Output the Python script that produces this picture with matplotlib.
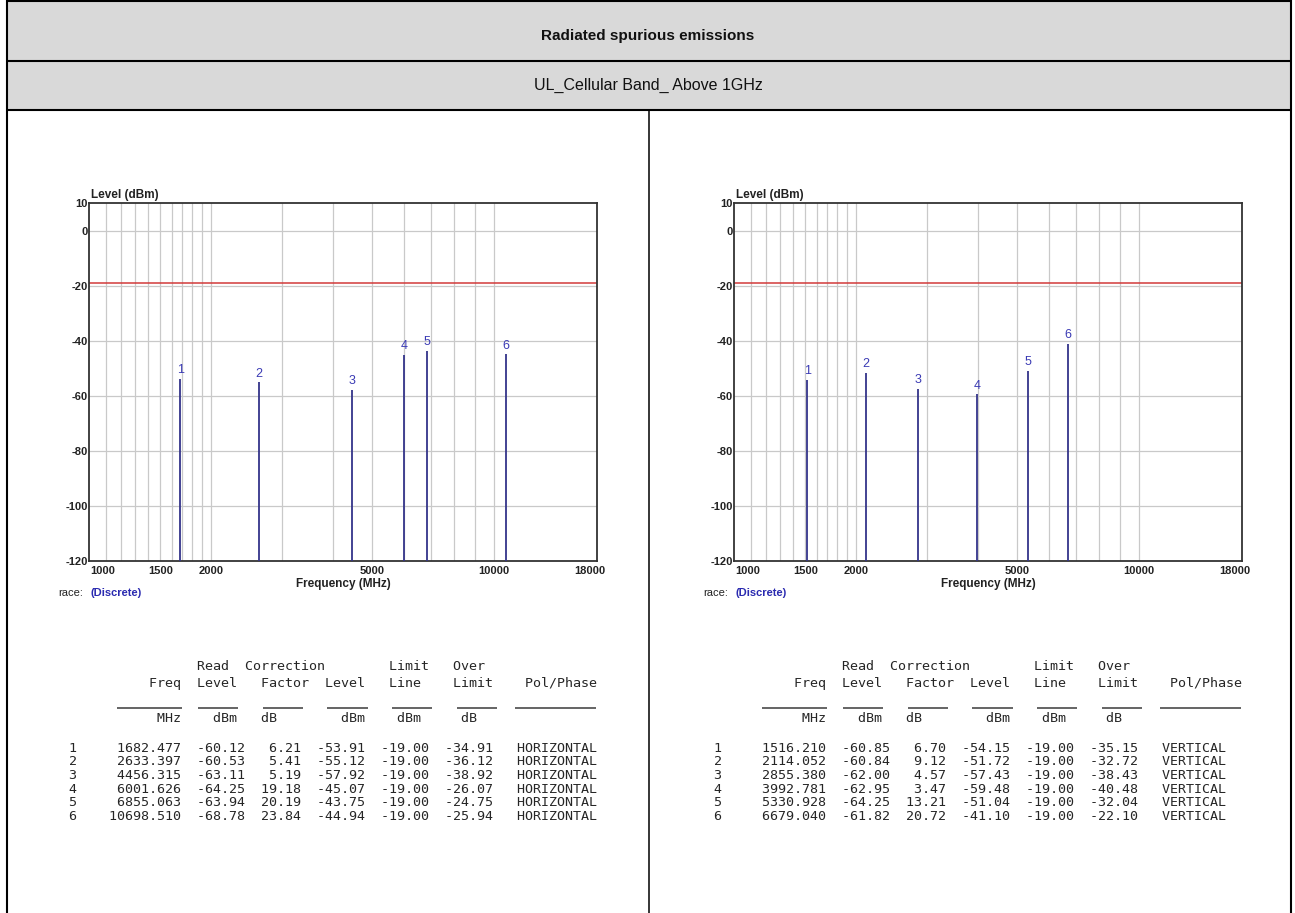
import matplotlib
matplotlib.use("Agg")
import matplotlib.pyplot as plt
from matplotlib.patches import Rectangle
from matplotlib.transforms import ScaledTranslation

plt.rcParams['font.family'] = ['Liberation Sans', 'DejaVu Sans']

# ---------------- data ----------------
title = "Radiated spurious emissions"
subtitle = "UL_Cellular Band_ Above 1GHz"

marker_ids = [1, 2, 3, 4, 5, 6]

h_freq = [1682.477, 2633.397, 4456.315, 6001.626, 6855.063, 10698.510]
h_read = [-60.12, -60.53, -63.11, -64.25, -63.94, -68.78]
h_corr = [6.21, 5.41, 5.19, 19.18, 20.19, 23.84]
h_level = [-53.91, -55.12, -57.92, -45.07, -43.75, -44.94]
h_limit = [-19.00, -19.00, -19.00, -19.00, -19.00, -19.00]
h_over = [-34.91, -36.12, -38.92, -26.07, -24.75, -25.94]
h_pol = "HORIZONTAL"

v_freq = [1516.210, 2114.052, 2855.380, 3992.781, 5330.928, 6679.040]
v_read = [-60.85, -60.84, -62.00, -62.95, -64.25, -61.82]
v_corr = [6.70, 9.12, 4.57, 3.47, 13.21, 20.72]
v_level = [-54.15, -51.72, -57.43, -59.48, -51.04, -41.10]
v_limit = [-19.00, -19.00, -19.00, -19.00, -19.00, -19.00]
v_over = [-35.15, -32.72, -38.43, -40.48, -32.04, -22.10]
v_pol = "VERTICAL"

limit_level = -19.0
x_tick_values = [1000, 1500, 2000, 5000, 10000, 18000]
x_tick_labels = ["1000", "1500", "2000", "5000", "10000", "18000"]
x_grid_values = [1100, 1200, 1300, 1400, 1500, 1600, 1700, 1800, 1900,
                 2000, 3000, 4000, 5000, 6000, 7000, 8000, 9000, 10000]
y_tick_values = [10, 0, -20, -40, -60, -80, -100, -120]
y_grid_values = [0, -20, -40, -60, -80, -100]

# ---------------- figure ----------------
W, H = 1295, 913
fig = plt.figure(figsize=(W / 100, H / 100), dpi=100)
fig.patch.set_facecolor("white")

bg = fig.add_axes([0, 0, 1, 1])
bg.set_xlim(0, W)
bg.set_ylim(H, 0)
bg.axis("off")

frame_lw = 1.5
left_b, right_b, top_b = 6.5, 1291, 1.5
row1_b, row2_b = 61, 110
divider_x = 649

bg.add_patch(Rectangle((left_b, top_b), right_b - left_b, row2_b - top_b,
                       facecolor="#d9d9d9", edgecolor="none"))
for y in (top_b, row1_b, row2_b):
    bg.plot([left_b, right_b], [y, y], color="black", lw=frame_lw, solid_capstyle="butt")
for x in (left_b, right_b):
    bg.plot([x, x], [top_b, H + 5], color="black", lw=frame_lw)
bg.plot([divider_x, divider_x], [row2_b, H + 5], color="black", lw=1.1)

bg.text(648, 36, title, ha="center", va="center", fontsize=11, fontweight="bold", color="#111111")
bg.text(648, 85, subtitle, ha="center", va="center", fontsize=11.5, color="#111111")

grid_col = "#c9c9c9"
line_col = "#34348a"
num_col = "#3a3ab4"
tick_font = dict(fontsize=8, fontweight="bold", color="#222222")


def draw_chart(x0, freqs, levels):
    ax = fig.add_axes([x0 / W, 1 - 561 / H, 508 / W, 358 / H])
    ax.set_xscale("log")
    ax.set_xlim(1000, 18000)
    ax.set_ylim(-120, 10)
    for xv in x_grid_values:
        ax.axvline(xv, color=grid_col, lw=0.9, zorder=1)
    for yv in y_grid_values:
        ax.axhline(yv, color=grid_col, lw=0.9, zorder=1)
    ax.axhline(limit_level, color="#d23a3a", lw=1.1, zorder=2)
    ax.vlines(freqs, -120, levels, color=line_col, lw=1.3, zorder=3)
    for n, f, lv in zip(marker_ids, freqs, levels):
        ax.annotate(str(n), (f, lv), xytext=(0, 2), textcoords="offset points",
                    ha="center", va="bottom", fontsize=9, color=num_col, zorder=4)
    ax.minorticks_off()
    ax.set_xticks(x_tick_values)
    ax.set_xticklabels(x_tick_labels, **tick_font)
    ax.set_yticks(y_tick_values)
    ax.set_yticklabels([str(v) for v in y_tick_values], **tick_font)
    ax.tick_params(axis="both", length=0)
    ax.tick_params(axis="y", pad=1)
    ax.tick_params(axis="x", pad=3.5)
    labels = ax.get_xticklabels()
    labels[0].set_ha("left")
    labels[0].set_transform(labels[0].get_transform() + ScaledTranslation(0.01, 0, fig.dpi_scale_trans))
    labels[-1].set_ha("right")
    labels[-1].set_transform(labels[-1].get_transform() + ScaledTranslation(0.08, 0, fig.dpi_scale_trans))
    for s in ax.spines.values():
        s.set_color("#333333")
        s.set_linewidth(1.3)
    ax.text(0.003, 1.005, "Level (dBm)", transform=ax.transAxes, ha="left", va="bottom",
            fontsize=8.5, fontweight="bold", color="#222222")
    bg.text(x0 + 254, 584, "Frequency (MHz)", ha="center", va="center",
            fontsize=8.5, fontweight="bold", color="#222222")
    bg.text(x0 - 31, 593, "race:", ha="left", va="center", fontsize=8, color="#222222")
    bg.text(x0 + 1.5, 593, "(Discrete)", ha="left", va="center", fontsize=8,
            fontweight="bold", color="#2a2ab0")
    return ax


def put(chars, idx, s):
    for i, c in enumerate(s):
        chars[idx + i] = c


def draw_table(ox, freqs, reads, corrs, levels, limits, overs, pol):
    cw = 8.08
    x0 = ox
    mono = dict(family="DejaVu Sans Mono", fontsize=9.66, color="#262626", ha="left", va="center")
    h1 = [" "] * 70
    put(h1, 16, "Read"); put(h1, 22, "Correction"); put(h1, 40, "Limit"); put(h1, 48, "Over")
    h2 = [" "] * 70
    put(h2, 10, "Freq"); put(h2, 16, "Level"); put(h2, 24, "Factor"); put(h2, 32, "Level")
    put(h2, 40, "Line"); put(h2, 48, "Limit"); put(h2, 57, "Pol/Phase")
    u = [" "] * 70
    put(u, 11, "MHz"); put(u, 18, "dBm"); put(u, 24, "dB"); put(u, 34, "dBm")
    put(u, 41, "dBm"); put(u, 49, "dB")
    bg.text(x0, 667, "".join(h1).rstrip(), **mono)
    bg.text(x0, 684, "".join(h2).rstrip(), **mono)
    bg.text(x0, 718, "".join(u).rstrip(), **mono)
    for a, b in [(6, 14), (16, 21), (24, 29), (32, 37), (40, 45), (48, 53), (55.2, 65.2)]:
        bg.plot([x0 + a * cw, x0 + b * cw], [708, 708], color="#3a3a3a", lw=1.1, solid_capstyle="butt")
    for i, (n, f, r, c, lv, lm, ov) in enumerate(zip(marker_ids, freqs, reads, corrs, levels, limits, overs)):
        row = f"{n}{f:>13.3f}  {r:>6.2f}{c:>7.2f}{lv:>8.2f}{lm:>8.2f}{ov:>8.2f}   {pol}"
        bg.text(x0, 748 + i * 13.7, row, **mono)


draw_chart(89, h_freq, h_level)
draw_chart(734, v_freq, v_level)
draw_table(68.7, h_freq, h_read, h_corr, h_level, h_limit, h_over, h_pol)
draw_table(68.7 + 645, v_freq, v_read, v_corr, v_level, v_limit, v_over, v_pol)

fig.savefig("out.png", dpi=100)
